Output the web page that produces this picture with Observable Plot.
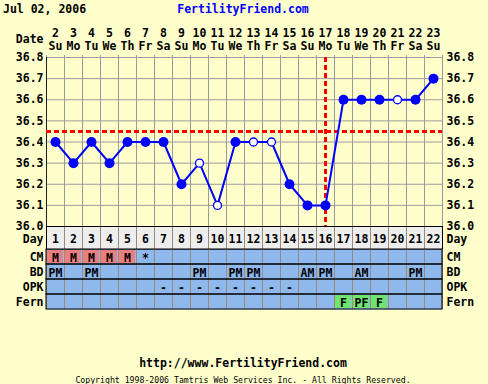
<!DOCTYPE html>
<html><head><meta charset="utf-8">
<script src="https://cdn.jsdelivr.net/npm/d3@7"></script>
<script src="https://cdn.jsdelivr.net/npm/@observablehq/plot@0.6"></script>
<style>
html,body{margin:0;padding:0;background:#ffffcc;}
#wrap{position:relative;width:488px;height:384px;background:#ffffcc;overflow:hidden;font-family:"DejaVu Sans Mono",monospace;font-weight:bold;color:#000;}
#wrap svg{position:absolute;left:0;overflow:visible;max-width:none;}
.lbl{position:absolute;white-space:nowrap;line-height:1;}
</style></head><body>
<div id="wrap">
  <div class="lbl" style="left:3px;top:4px;font-size:11.5px;">Jul 02, 2006</div>
  <div class="lbl" style="left:0;width:486px;text-align:center;top:4px;font-size:11.5px;color:#0000ff;">FertilityFriend.com</div>
  <div class="lbl" style="left:0;width:486px;text-align:center;top:358px;font-size:11.5px;">http://www.FertilityFriend.com</div>
  <div class="lbl" style="left:0;width:486px;text-align:center;top:376px;font-size:8.2px;font-weight:normal;">Copyright 1998-2006 Tamtris Web Services Inc. - All Rights Reserved.</div>
</div>
<script>
// ---- data ----
const cycleDays = [1,2,3,4,5,6,7,8,9,10,11,12,13,14,15,16,17,18,19,20,21,22];
const dates = ["2","3","4","5","6","7","8","9","10","11","12","13","14","15","16","17","18","19","20","21","22","23"];
const weekdays = ["Su","Mo","Tu","We","Th","Fr","Sa","Su","Mo","Tu","We","Th","Fr","Sa","Su","Mo","Tu","We","Th","Fr","Sa","Su"];
const temps = [36.4,36.3,36.4,36.3,36.4,36.4,36.4,36.2,36.3,36.1,36.4,36.4,36.4,36.2,36.1,36.1,36.6,36.6,36.6,36.6,36.6,36.7];
const openPoint = [false,false,false,false,false,false,false,false,true,true,false,true,true,false,false,false,false,false,false,true,false,false];
const tempTicks = [36.0,36.1,36.2,36.3,36.4,36.5,36.6,36.7,36.8];
const coverline = 36.45;
const ovulationDay = 16;
const rowNames = ["CM","BD","OPK","Fern"];
const cm   = ["M","M","M","M","M","*","","","","","","","","","","","","","","","",""];
const bd   = ["PM","","PM","","","","","","PM","","PM","PM","","","AM","PM","","AM","","","PM",""];
const opk  = ["","","","","","","-","-","-","-","-","-","-","-","","","","","","","",""];
const fern = ["","","","","","","","","","","","","","","","","F","PF","F","","",""];

// ---- styles ----
const font = {fontFamily: "'DejaVu Sans Mono', monospace", fontSize: "11.5px", fontWeight: "bold", background: "transparent", overflow: "visible", color: "#000"};
const gridColor = "#9a9aa0";
const tableGrid = "#9a8a7a";
const blueFill = "#8fb8ec";
const salmon = "#ea7f7f";
const green = "#6fe46f";
const red = "#ff0000";

const temp = cycleDays.map((d, i) => ({day: d, date: dates[i], wd: weekdays[i], temp: temps[i], open: openPoint[i]}));
const colEdges = [cycleDays[0] - 0.5, ...cycleDays.map(d => d + 0.5)];
const xDomain = [cycleDays[0] - 0.5, cycleDays[cycleDays.length - 1] + 0.5];

const wrap = document.getElementById("wrap");

// ---- temperature chart ----
const chartA = Plot.plot({
  width: 488, height: 227,
  marginTop: 57, marginBottom: 1, marginLeft: 46, marginRight: 46,
  style: font,
  x: {domain: xDomain, axis: null},
  y: {domain: [36.0, 36.8], axis: null},
  marks: [
    Plot.ruleY(tempTicks, {stroke: gridColor}),
    Plot.ruleX(colEdges, {stroke: gridColor, insetTop: -2}),
    Plot.ruleX([xDomain[0]], {stroke: "#222"}),
    Plot.ruleY([36.0], {stroke: "#000"}),
    Plot.ruleY([coverline], {stroke: red, strokeWidth: 3, strokeDasharray: "5,3"}),
    Plot.ruleX([ovulationDay], {stroke: red, strokeWidth: 3, strokeDasharray: "5,3"}),
    Plot.line(temp, {x: "day", y: "temp", stroke: "#0000ff", strokeWidth: 2}),
    Plot.dot(temp.filter(d => !d.open), {x: "day", y: "temp", r: 5, fill: "#0000ff", stroke: "none"}),
    Plot.dot(temp.filter(d => d.open), {x: "day", y: "temp", r: 4, fill: "#ffffff", stroke: "#0000ff", strokeWidth: 1.3}),
    Plot.axisY(tempTicks, {anchor: "left", tickSize: 0, tickPadding: 3, tickFormat: d => d.toFixed(1), label: null}),
    Plot.axisY(tempTicks, {anchor: "right", tickSize: 0, tickPadding: 4, tickFormat: d => d.toFixed(1), label: null}),
    Plot.text(temp, {x: "day", text: "date", frameAnchor: "top", lineAnchor: "middle", dy: -24}),
    Plot.text(temp, {x: "day", text: "wd", frameAnchor: "top", lineAnchor: "middle", dy: -11}),
    Plot.text(["Date"], {frameAnchor: "top-left", textAnchor: "end", lineAnchor: "middle", dx: -3, dy: -18})
  ]
});
chartA.style.top = "0px";
wrap.appendChild(chartA);

// ---- cycle day row ----
const chartB = Plot.plot({
  width: 488, height: 23,
  marginTop: 0, marginBottom: 0, marginLeft: 46, marginRight: 46,
  style: font,
  x: {domain: xDomain, axis: null},
  marks: [
    Plot.frame({fill: "#eeeeee", stroke: null}),
    Plot.ruleX(colEdges, {stroke: tableGrid}),
    Plot.frame({stroke: "#000"}),
    Plot.text(cycleDays, {x: d => d, text: d => String(d), frameAnchor: "middle", dy: 1}),
    Plot.text(["Day"], {frameAnchor: "left", textAnchor: "end", dx: -3, dy: 1}),
    Plot.text(["Day"], {frameAnchor: "right", textAnchor: "start", dx: 4, dy: 1})
  ]
});
chartB.style.top = "226px";
wrap.appendChild(chartB);

// ---- table ----
const cells = [];
cycleDays.forEach((d, i) => {
  if (cm[i]) cells.push({day: d, row: "CM", label: cm[i], box: cm[i] === "M" ? salmon : null});
  if (bd[i]) cells.push({day: d, row: "BD", label: bd[i], box: null});
  if (opk[i]) cells.push({day: d, row: "OPK", label: opk[i], box: null});
  if (fern[i]) cells.push({day: d, row: "Fern", label: fern[i], box: green});
});
const boxes = cells.filter(c => c.box);

const chartC = Plot.plot({
  width: 488, height: 60,
  marginTop: 0, marginBottom: 0, marginLeft: 46, marginRight: 46,
  style: font,
  x: {domain: xDomain, axis: null},
  y: {type: "band", domain: rowNames, padding: 0, axis: null},
  marks: [
    Plot.frame({fill: blueFill, stroke: null}),
    Plot.barX(boxes, {x1: d => d.day - 0.5, x2: d => d.day + 0.5, y: "row", fill: "box", inset: 1}),
    Plot.ruleX(colEdges, {stroke: tableGrid}),
    Plot.barX(rowNames, {x1: () => xDomain[0], x2: () => xDomain[1], y: d => d, fill: "none", stroke: "#000"}),
    Plot.text(cells, {x: "day", y: "row", text: "label", dy: 1}),
    Plot.axisY({anchor: "left", tickSize: 0, tickPadding: 3, label: null}),
    Plot.axisY({anchor: "right", tickSize: 0, tickPadding: 4, label: null})
  ]
});
chartC.style.top = "249px";
wrap.appendChild(chartC);
</script>
</body></html>
